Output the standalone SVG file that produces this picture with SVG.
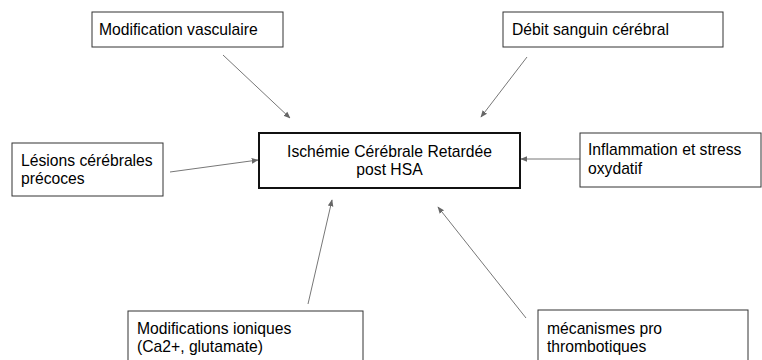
<svg xmlns="http://www.w3.org/2000/svg" width="762" height="360" viewBox="0 0 762 360">
<defs>
<style>
.box{fill:#fff;stroke:#333;stroke-width:1}
.main{fill:#fff;stroke:#111;stroke-width:2}
.t{font-family:"Liberation Sans",Arial,sans-serif;font-size:15.7px;fill:#000}
.c{stroke:#777;stroke-width:1;fill:none;marker-end:url(#ah)}
</style>
<marker id="ah" viewBox="0 0 10 10" refX="9" refY="5" markerWidth="7" markerHeight="7" orient="auto" markerUnits="userSpaceOnUse">
<path d="M0,1 L10,5 L0,9 z" fill="#666"/>
</marker>
</defs>
<rect width="762" height="360" fill="#fff"/>
<g id="connectors">
<line class="c" x1="223" y1="55" x2="290" y2="118"/>
<line class="c" x1="527" y1="57" x2="481" y2="117"/>
<line class="c" x1="170" y1="172" x2="258" y2="160"/>
<line class="c" x1="580" y1="159" x2="521" y2="159"/>
<line class="c" x1="308" y1="304" x2="332" y2="200"/>
<line class="c" x1="526" y1="318" x2="438" y2="207"/>
</g>
<g id="center">
<rect class="main" x="259" y="133" width="261" height="55"/>
<text class="t" x="389.5" y="157" text-anchor="middle">Ischémie Cérébrale Retardée</text>
<text class="t" x="389.5" y="175" text-anchor="middle">post HSA</text>
</g>
<g id="vasculaire">
<rect class="box" x="92" y="12" width="191" height="35"/>
<text class="t" x="99" y="35">Modification vasculaire</text>
</g>
<g id="debit">
<rect class="box" x="503" y="12" width="220" height="35"/>
<text class="t" x="512" y="35">Débit sanguin cérébral</text>
</g>
<g id="lesions">
<rect class="box" x="12" y="143" width="151" height="53"/>
<text class="t" x="21" y="166">Lésions cérébrales</text>
<text class="t" x="21" y="184">précoces</text>
</g>
<g id="inflammation">
<rect class="box" x="580" y="133" width="181" height="54"/>
<text class="t" x="588" y="155">Inflammation et stress</text>
<text class="t" x="588" y="174">oxydatif</text>
</g>
<g id="ioniques">
<rect class="box" x="128" y="311" width="235" height="60"/>
<text class="t" x="137" y="334">Modifications ioniques</text>
<text class="t" x="137" y="352">(Ca2+, glutamate)</text>
</g>
<g id="mecanismes">
<rect class="box" x="538" y="310" width="210" height="60"/>
<text class="t" x="547" y="334">mécanismes pro</text>
<text class="t" x="547" y="352">thrombotiques</text>
</g>
</svg>
